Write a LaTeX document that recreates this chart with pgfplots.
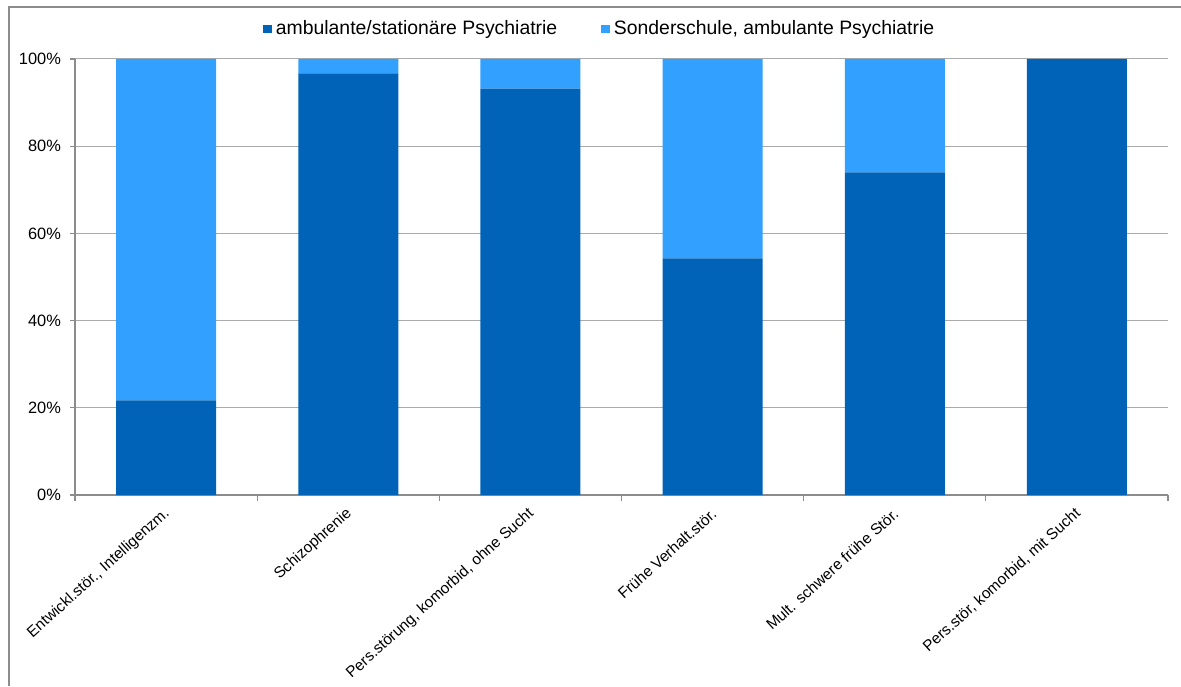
\documentclass[border=0pt]{standalone}
\usepackage{pgfplots}
\pgfplotsset{compat=1.18}
\usepackage{fontspec}
\setmainfont{Liberation Sans}
\definecolor{darkb}{RGB}{0,99,184}
\definecolor{lightb}{RGB}{49,160,254}
\definecolor{gridc}{RGB}{170,170,170}
\definecolor{axc}{RGB}{140,140,140}
\begin{document}
\begin{tikzpicture}
\path[use as bounding box] (0,0) rectangle (590.5pt,343pt);
\draw[axc,line width=1pt] (4.5pt,0) -- (4.5pt,339.5pt) -- (591pt,339.5pt);
\begin{axis}[
  at={(37.5pt,95.5pt)}, anchor=south west,
  scale only axis, width=546.5pt, height=218pt,
  ybar stacked, bar width=50pt,
  xmin=-0.5, xmax=5.5, ymin=0, ymax=100,
  xtick={0,1,2,3,4,5},
  xticklabels={{Entwickl.stör., Intelligenzm.},{Schizophrenie},{Pers.störung, komorbid, ohne Sucht},{Frühe Verhalt.stör.},{Mult. schwere frühe Stör.},{Pers.stör, komorbid, mit Sucht}},
  major x tick style={draw=none},
  minor xtick={-0.5,0.5,1.5,2.5,3.5,4.5,5.5},
  minor x tick style={axc, line width=0.6pt},
  tick align=outside,
  minor tick length=3pt, major tick length=2.5pt,
  ytick={0,20,40,60,80,100},
  yticklabel={\pgfmathprintnumber{\tick}\%},
  /pgf/number format/assume math mode=true,
  ymajorgrids, grid style={gridc, line width=0.5pt},
  axis x line*=bottom, axis y line*=left,
  axis line style={axc, line width=0.6pt},
  y tick style={axc, line width=0.6pt},
  yticklabel style={font=\fontsize{8.2pt}{10pt}\selectfont, text=black, xshift=-1pt},
  xticklabel style={font=\fontsize{7.7pt}{9pt}\selectfont, text=black, xshift=1.5pt, yshift=-5pt, rotate=42, anchor=east, inner sep=1pt},
  legend style={at={(0.481,1.069)}, anchor=center, draw=none, font=\fontsize{9.7pt}{11pt}\selectfont, legend columns=2, /tikz/every even column/.append style={column sep=20pt}},
  legend image code/.code={\fill[#1] (0pt,-2.2pt) rectangle (4.3pt,2.1pt);},
  clip=false,
]
\addplot[fill=darkb, draw=none] coordinates {(0,21.7) (1,96.7) (2,93.2) (3,54.3) (4,74.0) (5,100)};
\addplot[fill=lightb, draw=none] coordinates {(0,78.3) (1,3.3) (2,6.8) (3,45.7) (4,26.0) (5,0)};
\legend{ambulante/stationäre Psychiatrie, {Sonderschule, ambulante Psychiatrie}}
\end{axis}
\end{tikzpicture}
\end{document}
